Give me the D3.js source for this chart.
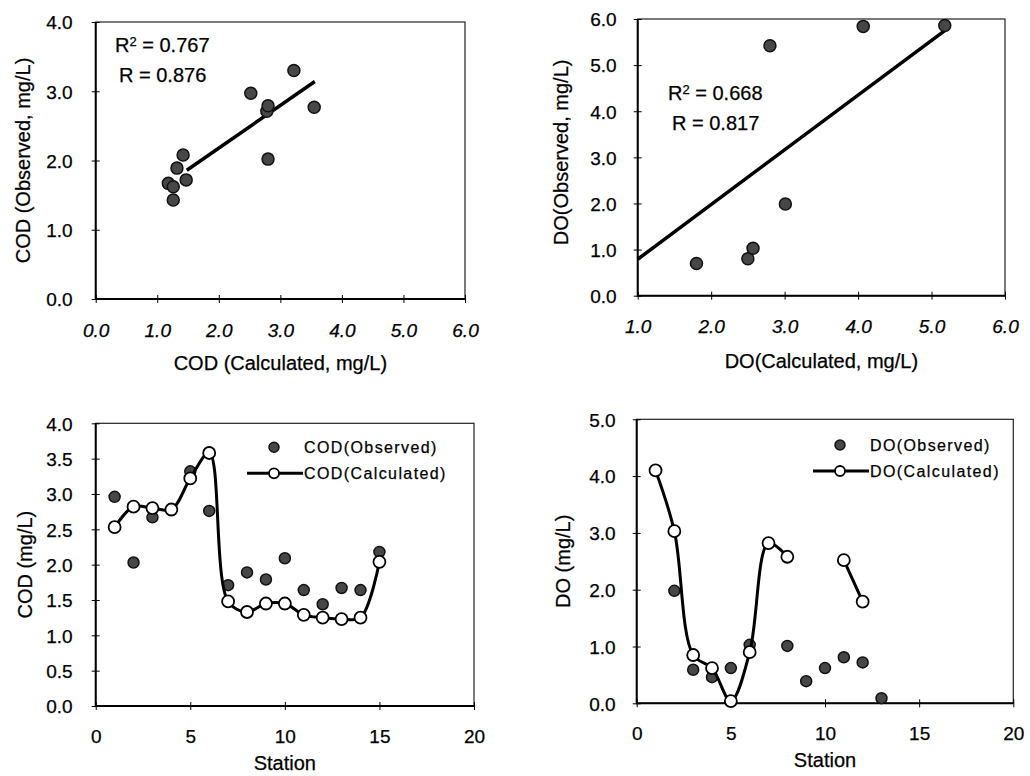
<!DOCTYPE html>
<html>
<head>
<meta charset="utf-8">
<script src="https://cdn.jsdelivr.net/npm/d3@7"></script>
<style>
  body { margin: 0; background: #fff; }
  svg { display: block; font-family: "Liberation Sans", Arial, sans-serif; }
  svg text { stroke: #000; stroke-width: 0.25px; }
</style>
</head>
<body>
<div id="chart"></div>
<script>
let w = 1030;
let h = 776;

// top-left: COD observed vs calculated
let codCalcScatter = [1.18, 1.26, 1.26, 1.32, 1.42, 1.47, 2.52, 2.78, 2.80, 2.80, 3.22, 3.55];
let codObsScatter  = [1.67, 1.43, 1.62, 1.89, 2.08, 1.72, 2.97, 2.71, 2.79, 2.02, 3.30, 2.77];
let codFitX = [1.48, 3.56];
let codFitY = [1.86, 3.14];
let codR2 = "0.767";
let codR = "0.876";

// top-right: DO observed vs calculated
let doCalcScatter = [1.80, 2.50, 2.57, 2.80, 3.01, 4.07, 5.18];
let doObsScatter  = [0.70, 0.80, 1.03, 5.42, 1.99, 5.84, 5.86];
let doFitX = [1.0, 5.18];
let doFitY = [0.79, 5.75];
let doR2 = "0.668";
let doR = "0.817";

// bottom-left: COD along the stations
let codStations   = [1, 2, 3, 4, 5, 6, 7, 8, 9, 10, 11, 12, 13, 14, 15];
let codObserved   = [2.96, 2.03, 2.67, null, 3.32, 2.76, 1.71, 1.89, 1.79, 2.09, 1.64, 1.44, 1.67, 1.64, 2.18];
let codCalculated = [2.53, 2.82, 2.80, 2.78, 3.22, 3.58, 1.48, 1.33, 1.45, 1.45, 1.29, 1.25, 1.23, 1.25, 2.04];

// bottom-right: DO along the stations
let doStations   = [1, 2, 3, 4, 5, 6, 7, 8, 9, 10, 11, 12, 13];
let doObserved   = [null, 1.98, 0.59, 0.46, 0.62, 1.03, null, 1.01, 0.39, 0.62, 0.81, 0.72, 0.09];
let doCalculated = [4.10, 3.03, 0.85, 0.62, 0.04, 0.90, 2.82, 2.58, null, null, 2.52, 1.79, null];

// tick values
let codScatterXTicks = [0, 1, 2, 3, 4, 5, 6];
let codScatterYTicks = [0, 1, 2, 3, 4];
let doScatterXTicks = [1, 2, 3, 4, 5, 6];
let doScatterYTicks = [0, 1, 2, 3, 4, 5, 6];
let stationTicks = [0, 5, 10, 15, 20];
let codLineYTicks = [0, 0.5, 1, 1.5, 2, 2.5, 3, 3.5, 4];
let doLineYTicks = [0, 1, 2, 3, 4, 5];

let svg = d3.select("#chart").append("svg")
  .attr("width", w)
  .attr("height", h)
  .attr("viewBox", "0 0 " + w + " " + h);

let obsFill = "#474747";

function drawPanel(p) {
  let g = svg.append("g");
  let x = d3.scaleLinear().domain(p.xDomain).range([p.left, p.right]);
  let y = d3.scaleLinear().domain(p.yDomain).range([p.bottom, p.top]);

  // frame
  g.append("rect")
    .attr("x", p.left).attr("y", p.top)
    .attr("width", p.right - p.left).attr("height", p.bottom - p.top)
    .attr("fill", "none").attr("stroke", "#222").attr("stroke-width", 1.2);
  g.append("path")
    .attr("d", `M${p.left},${p.top}V${p.bottom}H${p.right}`)
    .attr("fill", "none").attr("stroke", "#000").attr("stroke-width", 2);

  let xAxis = g.append("g")
    .attr("transform", "translate(0," + p.bottom + ")")
    .call(d3.axisBottom(x).tickValues(p.xTicks).tickFormat(p.xFormat).tickSize(4));
  xAxis.attr("font-family", null).attr("font-size", null);
  xAxis.select(".domain").remove();
  xAxis.selectAll(".tick line").attr("y1", -4).attr("y2", 4).attr("stroke", "#000");
  xAxis.selectAll(".tick text")
    .attr("y", p.xLabelY).attr("dy", 0)
    .attr("font-size", 19).attr("fill", "#000")
    .style("font-style", p.xItalic ? "italic" : "normal");

  let yAxis = g.append("g")
    .attr("transform", "translate(" + p.left + ",0)")
    .call(d3.axisLeft(y).tickValues(p.yTicks).tickFormat(d3.format(".1f")).tickSize(4));
  yAxis.attr("font-family", null).attr("font-size", null);
  yAxis.select(".domain").remove();
  yAxis.selectAll(".tick line").attr("x1", -4).attr("x2", 4).attr("stroke", "#000");
  yAxis.selectAll(".tick text")
    .attr("x", -p.yLabelGap).attr("dy", "0.36em")
    .attr("font-size", 19).attr("fill", "#000");

  // axis titles
  g.append("text")
    .attr("x", (p.left + p.right) / 2)
    .attr("y", p.bottom + p.xTitleY)
    .attr("text-anchor", "middle")
    .attr("font-size", 20)
    .text(p.xTitle);
  g.append("text")
    .attr("transform", "translate(" + (p.left - p.yTitleX) + "," + ((p.top + p.bottom) / 2 + p.yTitleShift) + ") rotate(-90)")
    .attr("text-anchor", "middle")
    .attr("font-size", 20)
    .text(p.yTitle);

  return {g: g, x: x, y: y};
}

function observedDot(sel) {
  sel.attr("fill", obsFill).attr("stroke", "#111").attr("stroke-width", 1.5);
}

function calcDot(sel) {
  sel.attr("fill", "#fff").attr("stroke", "#000").attr("stroke-width", 1.8);
}

function addStats(g, x0, y0, r2, r) {
  let t1 = g.append("text").attr("x", x0).attr("y", y0).attr("font-size", 20);
  t1.append("tspan").text("R");
  t1.append("tspan").attr("font-size", 13).attr("dy", -6).text("2");
  t1.append("tspan").attr("dy", 6).text(" = " + r2);
  g.append("text").attr("x", x0 + 4).attr("y", y0 + 30).attr("font-size", 20)
    .text("R = " + r);
}

function addLegend(g, lx, ly, obsLabel, calcLabel) {
  g.append("circle").attr("cx", lx).attr("cy", ly).attr("r", 5).call(observedDot);
  g.append("text").attr("x", lx + 30).attr("y", ly + 6)
    .attr("font-size", 16).attr("letter-spacing", 1.4).text(obsLabel);
  g.append("line")
    .attr("x1", lx - 27).attr("x2", lx + 29)
    .attr("y1", ly + 26).attr("y2", ly + 26)
    .attr("stroke", "#000").attr("stroke-width", 3);
  g.append("circle").attr("cx", lx).attr("cy", ly + 26).attr("r", 5).call(calcDot);
  g.append("text").attr("x", lx + 30).attr("y", ly + 32)
    .attr("font-size", 16).attr("letter-spacing", 1.4).text(calcLabel);
}

// ---------- top-left
let p1 = drawPanel({
  left: 95.7, right: 465, top: 22, bottom: 299,
  xDomain: [0, 6], yDomain: [0, 4],
  xTicks: codScatterXTicks, yTicks: codScatterYTicks,
  xFormat: d3.format(".1f"), xItalic: true,
  xLabelY: 37.5, yLabelGap: 23,
  xTitle: "COD (Calculated, mg/L)", xTitleY: 71,
  yTitle: "COD (Observed, mg/L)", yTitleX: 66, yTitleShift: 0
});
p1.g.append("line")
  .attr("x1", p1.x(codFitX[0])).attr("y1", p1.y(codFitY[0]))
  .attr("x2", p1.x(codFitX[1])).attr("y2", p1.y(codFitY[1]))
  .attr("stroke", "#000").attr("stroke-width", 3.5);
p1.g.selectAll(".obs").data(codCalcScatter).enter()
  .append("circle")
  .attr("class", "obs")
  .attr("cx", d => p1.x(d))
  .attr("cy", (d, i) => p1.y(codObsScatter[i]))
  .attr("r", 6)
  .call(observedDot);
addStats(p1.g, 115, 52, codR2, codR);

// ---------- top-right
let p2 = drawPanel({
  left: 637.7, right: 1005, top: 19, bottom: 295.7,
  xDomain: [1, 6], yDomain: [0, 6],
  xTicks: doScatterXTicks, yTicks: doScatterYTicks,
  xFormat: d3.format(".1f"), xItalic: true,
  xLabelY: 37.5, yLabelGap: 21,
  xTitle: "DO(Calculated, mg/L)", xTitleY: 72.5,
  yTitle: "DO(Observed, mg/L)", yTitleX: 69.5, yTitleShift: -5
});
p2.g.append("line")
  .attr("x1", p2.x(doFitX[0])).attr("y1", p2.y(doFitY[0]))
  .attr("x2", p2.x(doFitX[1])).attr("y2", p2.y(doFitY[1]))
  .attr("stroke", "#000").attr("stroke-width", 3.5);
p2.g.selectAll(".obs").data(doCalcScatter).enter()
  .append("circle")
  .attr("class", "obs")
  .attr("cx", d => p2.x(d))
  .attr("cy", (d, i) => p2.y(doObsScatter[i]))
  .attr("r", 6)
  .call(observedDot);
addStats(p2.g, 668, 100, doR2, doR);

// ---------- bottom-left
let p3 = drawPanel({
  left: 95.7, right: 474, top: 423.3, bottom: 706,
  xDomain: [0, 20], yDomain: [0, 4],
  xTicks: stationTicks, yTicks: codLineYTicks,
  xFormat: d3.format("d"), xItalic: false,
  xLabelY: 37.3, yLabelGap: 23,
  xTitle: "Station", xTitleY: 64,
  yTitle: "COD (mg/L)", yTitleX: 64, yTitleShift: 0
});

// ---------- bottom-right
let p4 = drawPanel({
  left: 636.7, right: 1013.3, top: 419.3, bottom: 703.3,
  xDomain: [0, 20], yDomain: [0, 5],
  xTicks: stationTicks, yTicks: doLineYTicks,
  xFormat: d3.format("d"), xItalic: false,
  xLabelY: 36.7, yLabelGap: 21,
  xTitle: "Station", xTitleY: 63.4,
  yTitle: "DO (mg/L)", yTitleX: 67, yTitleShift: 0
});

function drawStations(p, stations, observed, calculated) {
  let obs = stations.map((s, i) => ({s: s, v: observed[i]})).filter(d => d.v != null);
  let calc = stations.map((s, i) => ({s: s, v: calculated[i]}));

  p.g.selectAll(".obs").data(obs).enter()
    .append("circle")
    .attr("class", "obs")
    .attr("cx", d => p.x(d.s))
    .attr("cy", d => p.y(d.v))
    .attr("r", 5.5)
    .call(observedDot);

  let line = d3.line()
    .defined(d => d.v != null)
    .x(d => p.x(d.s))
    .y(d => p.y(d.v))
    .curve(d3.curveCatmullRom.alpha(0.5));

  p.g.append("path")
    .datum(calc)
    .attr("d", line)
    .attr("fill", "none")
    .attr("stroke", "#000")
    .attr("stroke-width", 3);

  p.g.selectAll(".calc").data(calc.filter(d => d.v != null)).enter()
    .append("circle")
    .attr("class", "calc")
    .attr("cx", d => p.x(d.s))
    .attr("cy", d => p.y(d.v))
    .attr("r", 6)
    .call(calcDot);
}

drawStations(p3, codStations, codObserved, codCalculated);
addLegend(p3.g, 274, 447.3, "COD(Observed)", "COD(Calculated)");

drawStations(p4, doStations, doObserved, doCalculated);
addLegend(p4.g, 840, 445, "DO(Observed)", "DO(Calculated)");
</script>
</body>
</html>
